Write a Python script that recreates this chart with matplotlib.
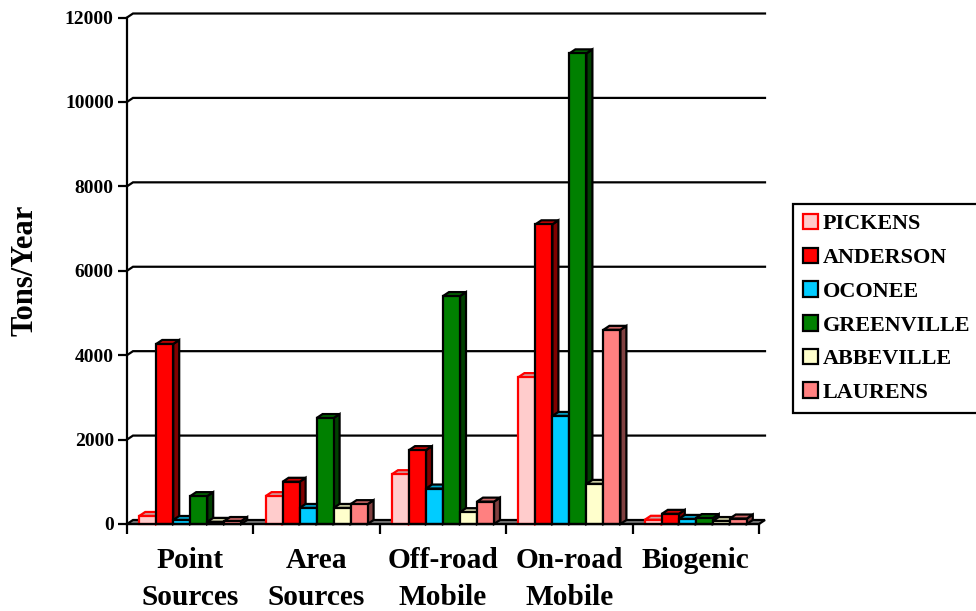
import numpy as np
import matplotlib
matplotlib.use("Agg")
import matplotlib.pyplot as plt
from matplotlib.colors import to_rgb
from matplotlib.patches import Patch

plt.rcParams.update({
    "font.family": ["Liberation Serif", "DejaVu Serif"],
    "font.weight": "bold",
    "axes.labelweight": "bold",
})

# Values (tons/year)
categories = ["Point\nSources", "Area\nSources", "Off-road\nMobile", "On-road\nMobile", "Biogenic\n"]
counties = ["PICKENS", "ANDERSON", "OCONEE", "GREENVILLE", "ABBEVILLE", "LAURENS"]
pickens = [190, 660, 1180, 3480, 100]
anderson = [4265, 1000, 1750, 7100, 240]
oconee = [95, 380, 840, 2560, 120]
greenville = [660, 2510, 5400, 11150, 140]
abbeville = [50, 380, 280, 950, 70]
laurens = [70, 470, 530, 4600, 130]
yticks = [0, 2000, 4000, 6000, 8000, 10000, 12000]

series = [pickens, anderson, oconee, greenville, abbeville, laurens]
colors = ["#FFCCCC", "#FF0000", "#00CCFF", "#008000", "#FFFFCC", "#FF8080"]
edges = ["#FF0000", "black", "black", "black", "black", "black"]

W, H = 976, 611
fig = plt.figure(figsize=(W / 100, H / 100), dpi=100)
ax = fig.add_axes([127 / W, (H - 524) / H, 632 / W, 506.5 / H])
ax.set_xlim(0, 5)
ax.set_ylim(0, 12000)

# fake 3D depth, in data units
dx = 6 / (632 / 5)
dy = 4 / (506.5 / 12000)
LW = 1.6


def shade(color, k):
    return tuple(c * k for c in to_rgb(color))


# floor and back wall lines
ax.fill([0, dx, 5 + dx, 5], [0, dy, dy, 0], facecolor="#808080", edgecolor="black",
        lw=LW, clip_on=False, zorder=1)
for t in yticks[1:]:
    ax.plot([0, dx, 5 + dx], [t, t + dy, t + dy], color="black", lw=LW, clip_on=False,
            zorder=1, solid_joinstyle="miter")

bar_w = 17 / (632 / 5)
offset = (1 - 6 * bar_w) / 2
z = 2
for g in range(len(categories)):
    for i, vals in enumerate(series):
        x0 = g + offset + i * bar_w
        v = vals[g]
        ax.fill([x0 + bar_w, x0 + bar_w + dx, x0 + bar_w + dx, x0 + bar_w],
                [0, dy, v + dy, v], facecolor=shade(colors[i], 0.5), edgecolor=edges[i],
                lw=LW, clip_on=False, zorder=z)
        ax.fill([x0, x0 + dx, x0 + bar_w + dx, x0 + bar_w],
                [v, v + dy, v + dy, v], facecolor=shade(colors[i], 0.8), edgecolor=edges[i],
                lw=LW, clip_on=False, zorder=z)
        ax.bar(x0, v, bar_w, align="edge", color=colors[i], edgecolor=edges[i],
               lw=LW, clip_on=False, zorder=z + 0.5)
        z += 1

for s in ["top", "right"]:
    ax.spines[s].set_visible(False)
for s in ["left", "bottom"]:
    ax.spines[s].set_linewidth(LW)
    ax.spines[s].set_zorder(100)

ax.set_yticks(yticks)
ax.set_yticklabels([str(t) for t in yticks], fontsize=14)
ax.tick_params(axis="y", length=6.5, width=LW, pad=3)
ax.set_xticks(np.arange(6))
ax.set_xticklabels([])
ax.tick_params(axis="x", which="major", length=7, width=LW)
ax.set_xticks(np.arange(5) + 0.5, categories, minor=True, fontsize=21.2, linespacing=1.47)
ax.tick_params(axis="x", which="minor", length=0, pad=16.5)

ax.set_ylabel("Tons/Year", fontsize=22)
ax.yaxis.set_label_coords(-87 / 632, 0.5)

handles = [Patch(facecolor=c, edgecolor=e, lw=LW) for c, e in zip(colors, edges)]
leg = fig.legend(handles, counties, loc="upper left",
                 bbox_to_anchor=(793 / W, 1 - 204 / H), bbox_transform=fig.transFigure,
                 prop={"family": "Liberation Serif", "weight": "bold", "size": 15.9},
                 fancybox=False, framealpha=1, edgecolor="black", borderaxespad=0,
                 borderpad=0.45, labelspacing=0.6, handlelength=0.7, handleheight=0.7,
                 handletextpad=0.2)
leg.get_frame().set_linewidth(LW)

fig.savefig("out.png", dpi=100)
